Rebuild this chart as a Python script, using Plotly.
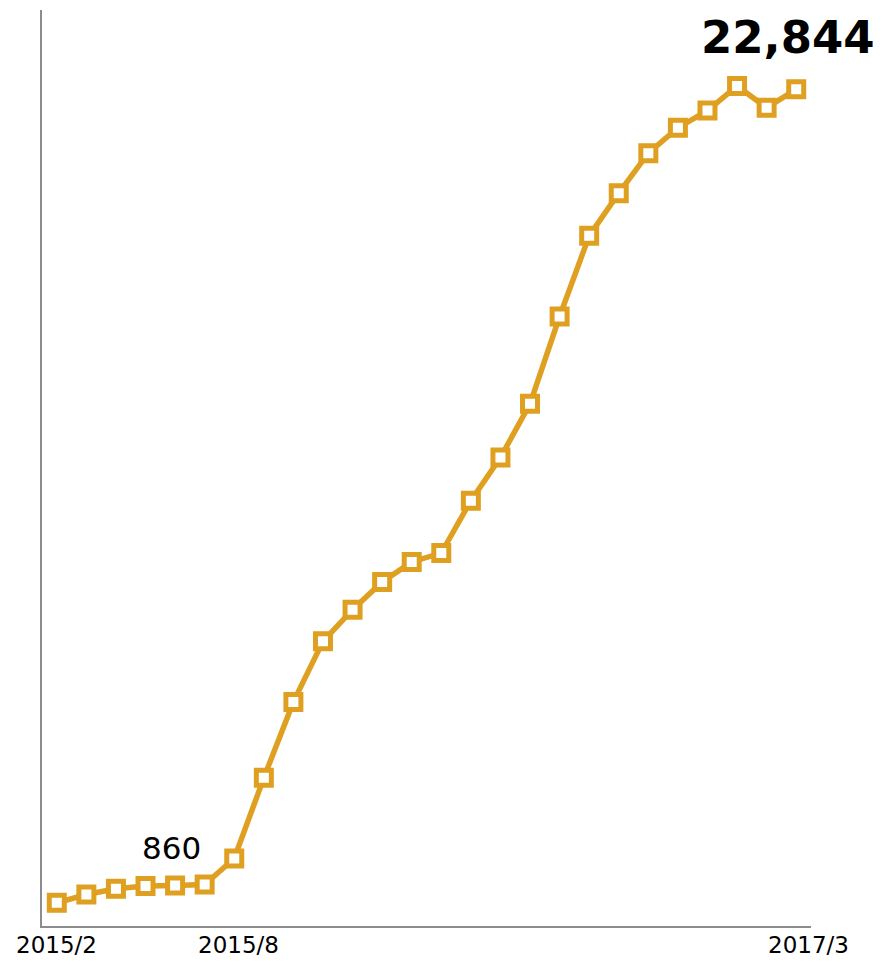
import plotly.graph_objects as go

# Monthly series, 2015/2 through 2017/3
months = [
    "2015/2", "2015/3", "2015/4", "2015/5", "2015/6", "2015/7", "2015/8",
    "2015/9", "2015/10", "2015/11", "2015/12", "2016/1", "2016/2", "2016/3",
    "2016/4", "2016/5", "2016/6", "2016/7", "2016/8", "2016/9", "2016/10",
    "2016/11", "2016/12", "2017/1", "2017/2", "2017/3",
]
values = [
    384, 613, 770, 845, 860, 889, 1606,
    3833, 5930, 7602, 8477, 9241, 9793, 10041,
    11485, 12679, 14161, 16570, 18797, 19975, 21079,
    21785, 22255, 22936, 22337, 22844,
]

# Axis labels shown under the chart
tick_labels = ["2015/2", "2015/8", "2017/3"]

# Points that carry a value label
labeled_months = ["2015/6", "2017/3"]

GOLD = "#DFA021"
AXIS = "#8C8C8C"
FONT = "DejaVu Sans"

xs = list(range(len(months)))

fig = go.Figure()
fig.add_trace(go.Scatter(
    x=xs, y=values, mode="lines+markers",
    line=dict(color=GOLD, width=5.5),
    marker=dict(symbol="square", size=15, color="white",
                line=dict(color=GOLD, width=5)),
    hoverinfo="skip", showlegend=False,
))

annotations = []
# category labels along the bottom
tick_shift = {"2015/2": 0, "2015/8": 4, "2017/3": 12}
for lab in tick_labels:
    annotations.append(dict(
        x=months.index(lab), y=0, xref="x", yref="paper",
        yanchor="top", xanchor="center", yshift=-5, xshift=tick_shift[lab],
        text=lab, showarrow=False, borderpad=0,
        font=dict(family=FONT, size=23, color="black"),
    ))

# value labels
small = labeled_months[0]
i = months.index(small)
annotations.append(dict(
    x=i, y=values[i], xref="x", yref="y", text=f"{values[i]:,}",
    showarrow=False, yshift=38, xshift=-4,
    font=dict(family=FONT, size=31, color="black"),
))
big = labeled_months[1]
j = months.index(big)
annotations.append(dict(
    x=j, y=values[j], xref="x", yref="y", text=f"<b>{values[j]:,}</b>",
    showarrow=False, yshift=52, xshift=-8,
    font=dict(family=FONT, size=45, color="black"),
))

fig.update_layout(
    width=883, height=962,
    margin=dict(l=42, r=72, t=10, b=36),
    paper_bgcolor="white", plot_bgcolor="white",
    annotations=annotations,
    xaxis=dict(range=[-0.5, 25.5], showline=True, linecolor=AXIS, linewidth=2,
               showgrid=False, zeroline=False, showticklabels=False,
               ticks="", fixedrange=True),
    yaxis=dict(range=[-257, 25033], showline=True, linecolor=AXIS, linewidth=2,
               showgrid=False, zeroline=False, showticklabels=False,
               ticks="", fixedrange=True),
)

fig.write_html("out.html", config={"displayModeBar": False})
